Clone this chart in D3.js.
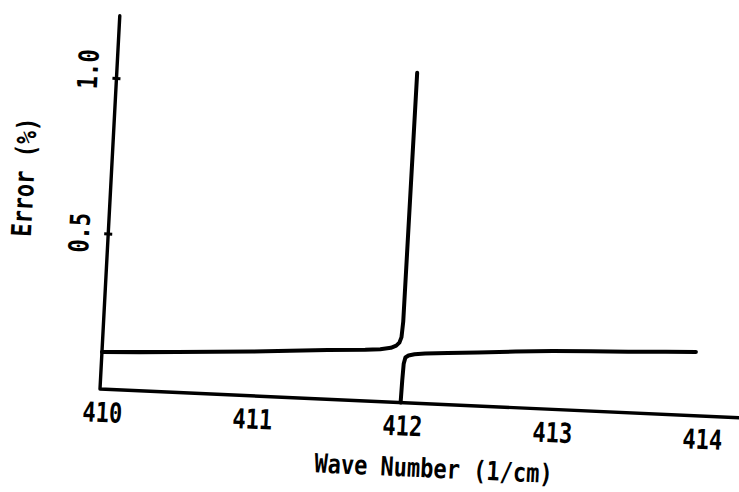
<!DOCTYPE html>
<html><head><meta charset="utf-8">
<script src="https://cdn.jsdelivr.net/npm/d3@7"></script>
<style>
html,body{margin:0;padding:0;background:#fff;}
svg{display:block;}
text{font-family:"DejaVu Sans Mono",monospace;font-weight:bold;fill:#000;}
</style></head>
<body><svg id="chart" width="739" height="492"></svg>
<script>
// ---- data ----
const xTicks = [410, 411, 412, 413, 414];
const xTickLabels = ["410", "411", "412", "413", "414"];
const yTicks = [0.5, 1.0];
const yTickLabels = ["0.5", "1.0"];
const xAxisExtent = [410, 414.27];
const yAxisExtent = [0, 1.2];
const leftX = [410, 410.25, 410.5, 410.75, 411, 411.25, 411.5, 411.75, 411.85, 411.92, 411.955, 411.975, 411.987, 411.993, 411.998];
const leftY = [0.119, 0.124, 0.130, 0.136, 0.142, 0.150, 0.158, 0.164, 0.168, 0.174, 0.182, 0.192, 0.21, 0.26, 1.06];
const rightX = [412.004, 412.007, 412.011, 412.02, 412.04, 412.08, 412.15, 412.3, 412.5, 412.75, 413, 413.25, 413.5, 413.75, 413.95];
const rightY = [0, 0.07, 0.125, 0.145, 0.152, 0.157, 0.161, 0.166, 0.172, 0.180, 0.187, 0.192, 0.196, 0.201, 0.205];
const xTitle = "Wave Number (1/cm)";
const yTitle = "Error (%)";

// ---- drawing ----
const svg = d3.select("#chart");
svg.append("rect").attr("width", 739).attr("height", 492).attr("fill", "#fff");

const x = d3.scaleLinear().domain([410, 414]).range([0, 600]);
const y = d3.scaleLinear().domain([0, 1]).range([0, -311]);

// scanned page is slightly rotated/skewed
const g = svg.append("g").attr("transform", "matrix(1,0.045,-0.053,1,100,389)");

const axisStyle = sel => sel.attr("fill", "none").attr("stroke", "#000").attr("stroke-width", 3.4).attr("stroke-linecap", "round").attr("stroke-linejoin", "round");

// axis lines
g.append("path").call(axisStyle)
  .attr("d", d3.line()([[x(xAxisExtent[1]), y(0)], [x(xAxisExtent[0]), y(0)], [x(410), y(yAxisExtent[1])]]));

// x axis tick labels
const xAxis = d3.axisBottom(x).tickValues(xTicks).tickSize(0).tickPadding(0)
  .tickFormat((d, i) => xTickLabels[i]);
const xa = g.append("g").call(xAxis);
xa.select(".domain").remove();
xa.selectAll("text").attr("y", 0).attr("dy", "0.36em")
  .attr("transform", "translate(3,23) scale(1,1.25)")
  .style("font-size", "22px").style("font-family", "'DejaVu Sans Mono',monospace").style("font-weight", "bold").attr("fill", "#000");

// y axis ticks
const yAxis = d3.axisLeft(y).tickValues(yTicks).tickSize(4).tickPadding(0)
  .tickFormat((d, i) => yTickLabels[i]);
const ya = g.append("g").call(yAxis);
ya.select(".domain").remove();
ya.selectAll(".tick line").attr("x1", 4).attr("x2", -4).attr("stroke", "#000").attr("stroke-width", 3);
ya.selectAll("text").attr("x", 0).attr("y", 0).attr("dy", "0.36em")
  .attr("text-anchor", "middle")
  .attr("transform", (d, i) => `translate(-29,${i === 1 ? -8 : 0}) rotate(-90) scale(1,1.25)`)
  .style("font-size", "22px").style("font-family", "'DejaVu Sans Mono',monospace").style("font-weight", "bold").attr("fill", "#000");

// curve
const line = d3.line().x(d => x(d[0])).y(d => y(d[1]));
const curveStyle = sel => sel.attr("fill", "none").attr("stroke", "#000").attr("stroke-width", 4).attr("stroke-linecap", "round").attr("stroke-linejoin", "round");
g.append("path").call(curveStyle).attr("d", line(leftX.map((v, i) => [v, leftY[i]])));
g.append("path").call(curveStyle).attr("d", line(rightX.map((v, i) => [v, rightY[i]])));

// titles
g.append("text").attr("text-anchor", "middle").attr("dy", "0.36em")
  .attr("transform", "translate(337,64) scale(1,1.2)")
  .style("font-size", "22px").text(xTitle);
g.append("text").attr("text-anchor", "middle").attr("dy", "0.36em")
  .attr("transform", "translate(-87,-208) rotate(-90) scale(1,1.25)")
  .style("font-size", "22px").text(yTitle);
</script></body></html>
